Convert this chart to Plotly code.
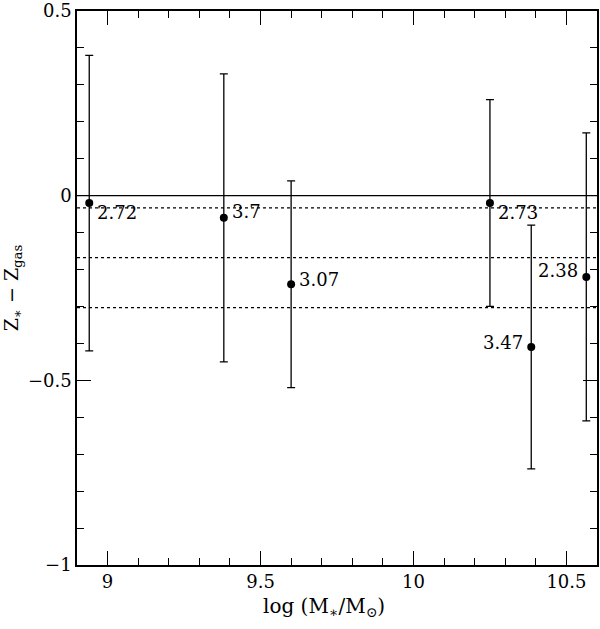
import plotly.graph_objects as go

# data
log_mass = [8.94, 9.38, 9.60, 10.25, 10.385, 10.565]
dZ = [-0.02, -0.06, -0.24, -0.02, -0.41, -0.22]
dZ_err = [0.40, 0.39, 0.28, 0.28, 0.33, 0.39]
point_labels = ["2.72", "3.7", "3.07", "2.73", "3.47", "2.38"]
label_side = ["right", "right", "right", "right", "left", "left"]
label_dy = [-9, 6, 5, -9, 5, 6]
ref_levels_dotted = [-0.033, -0.168, -0.303]
zero_level = 0.0
x_title = "log (M<sub>∗</sub>/M<sub>⊙</sub>)"
y_title = "Z<sub>∗</sub> − Z<sub>gas</sub>"

FONT = "DejaVu Serif"

fig = go.Figure()
fig.add_trace(go.Scatter(
    x=log_mass, y=dZ, mode="markers",
    marker=dict(color="black", size=8),
    error_y=dict(type="data", array=dZ_err, visible=True, color="black",
                 thickness=1.3, width=4),
    showlegend=False, hoverinfo="skip", cliponaxis=False,
))

shapes = [dict(type="line", xref="paper", x0=0, x1=1, yref="y", y0=zero_level, y1=zero_level,
               line=dict(color="black", width=1.3))]
for lv in ref_levels_dotted:
    shapes.append(dict(type="line", xref="paper", x0=0, x1=1, yref="y", y0=lv, y1=lv,
                       line=dict(color="black", width=1.3, dash="dot")))

annotations = []
for x, y, t, side, dy in zip(log_mass, dZ, point_labels, label_side, label_dy):
    annotations.append(dict(
        x=x, y=y, xref="x", yref="y", text=t, showarrow=False,
        xanchor="left" if side == "right" else "right",
        xshift=6 if side == "right" else -6, yshift=dy,
        font=dict(family=FONT, size=18, color="#000000"),
    ))
# x-axis title (placed slightly left of centre, as in the reference)
annotations.append(dict(
    x=0.475, y=0, xref="paper", yref="paper", yshift=-42, text=x_title, showarrow=False,
    xanchor="center", yanchor="middle", font=dict(family=FONT, size=20, color="#000000"),
))

axis_common = dict(
    showline=True, linecolor="black", linewidth=1.5, mirror="allticks",
    ticks="inside", ticklen=14, tickwidth=1.3, tickcolor="black",
    showgrid=False, zeroline=False, automargin=False, ticklabeloverflow="allow",
    tickfont=dict(family=FONT, size=18, color="#000000"),
)

fig.update_layout(
    width=600, height=629,
    margin=dict(l=77, r=3, t=11, b=64, autoexpand=False),
    plot_bgcolor="white", paper_bgcolor="white",
    shapes=shapes, annotations=annotations,
    xaxis=dict(range=[8.9, 10.6], tickvals=[9, 9.5, 10, 10.5], ticktext=["9", "9.5", "10", "10.5"],
               minor=dict(ticks="inside", ticklen=7, dtick=0.1, tick0=9, tickcolor="black", tickwidth=1.3),
               **axis_common),
    yaxis=dict(range=[-1, 0.5], tickvals=[-1, -0.5, 0, 0.5], ticktext=["−1", "−0.5", "0", "0.5"],
               minor=dict(ticks="inside", ticklen=7, dtick=0.1, tick0=0, tickcolor="black", tickwidth=1.3),
               title=dict(text=y_title, font=dict(family=FONT, size=19, color="#000000"),
                          standoff=8),
               **axis_common),
)

fig.write_html("out.html", config={"displayModeBar": False},
               post_script="document.body.style.margin='0';document.body.style.padding='0';")
